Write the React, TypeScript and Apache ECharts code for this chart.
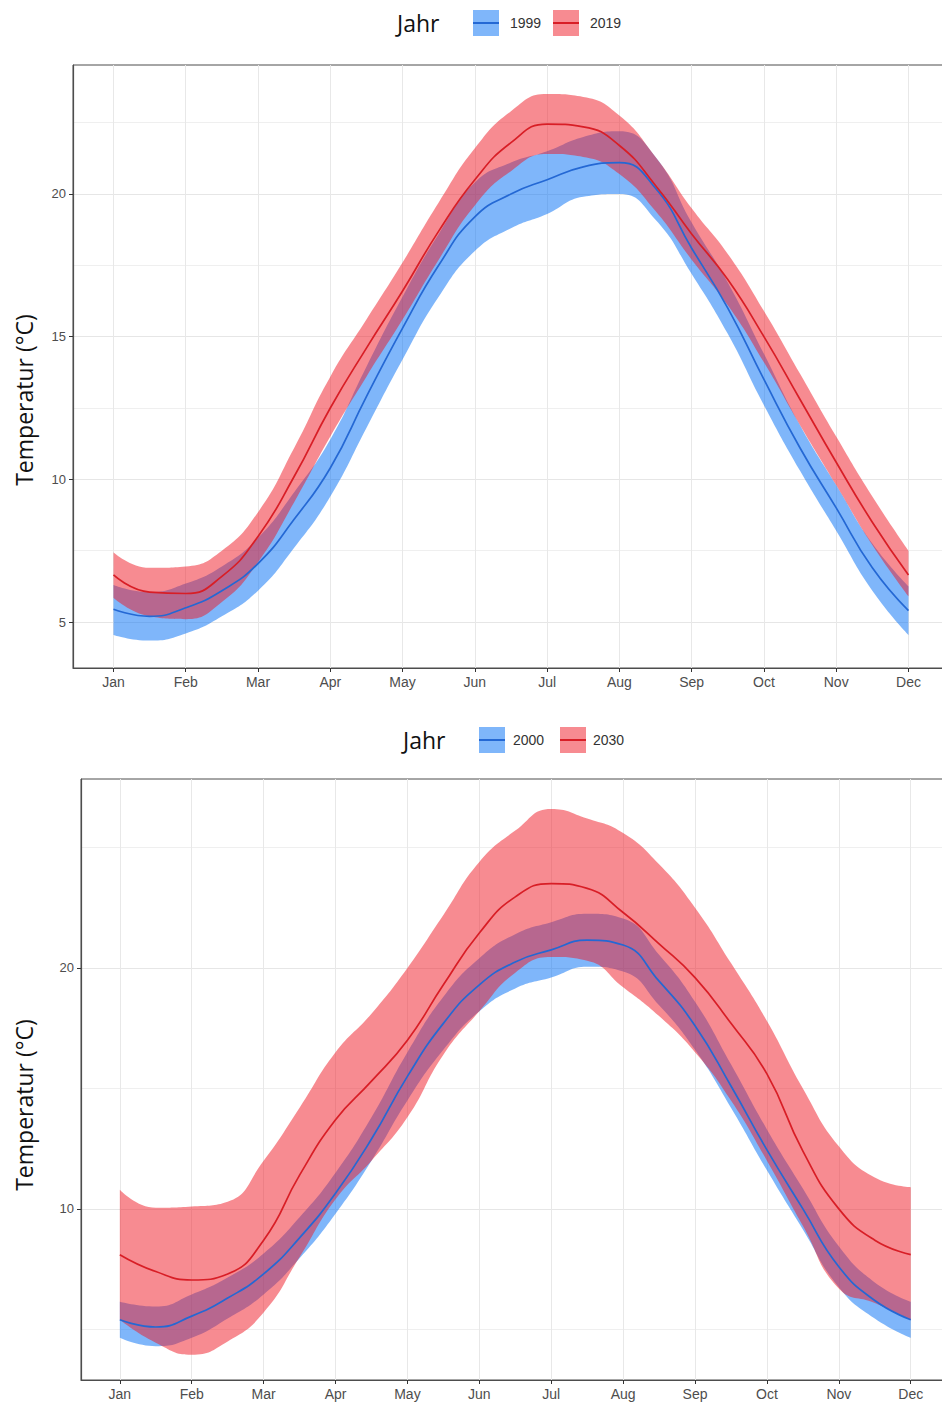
import React, { useEffect, useRef } from "react";
import * as echarts from "echarts";

// ---------- data ----------
const months = ["Jan", "Feb", "Mar", "Apr", "May", "Jun", "Jul", "Aug", "Sep", "Oct", "Nov", "Dec"];
const monthTicks = [1, 2, 3, 4, 5, 6, 7, 8, 9, 10, 11, 12];
const xPos = [1, 1.5, 2, 2.5, 3, 3.5, 4, 4.5, 5, 5.5, 6, 6.5, 7, 7.5, 8, 8.5, 9, 9.5, 10, 10.5, 11, 11.5, 12];

// top panel: 1999 vs 2019
const top1999Line = [5.45, 5.2, 5.5, 6.1, 7.05, 8.6, 10.4, 12.9, 15.3, 17.5, 19.2, 20.0, 20.5, 20.95, 21.1, 20.2, 18.1, 16.0, 13.5, 11.1, 9.0, 6.9, 5.4];
const top1999Lower = [4.55, 4.35, 4.6, 5.2, 6.1, 7.6, 9.4, 11.8, 14.2, 16.4, 18.0, 18.8, 19.3, 19.9, 20.0, 19.1, 17.2, 15.1, 12.6, 10.3, 8.2, 6.1, 4.55];
const top1999Upper = [6.3, 6.05, 6.35, 6.95, 7.95, 9.55, 11.4, 13.95, 16.4, 18.6, 20.4, 21.1, 21.5, 22.0, 22.2, 21.3, 19.0, 16.9, 14.4, 11.9, 9.8, 7.75, 6.25];

const top2019Line = [6.65, 6.05, 6.0, 6.6, 8.0, 10.1, 12.5, 14.6, 16.6, 18.7, 20.5, 21.8, 22.45, 22.35, 21.7, 20.3, 18.6, 17.0, 15.0, 12.8, 10.6, 8.5, 6.65];
const top2019Lower = [5.85, 5.2, 5.1, 5.7, 7.1, 9.2, 11.5, 13.6, 15.6, 17.7, 19.6, 20.8, 21.4, 21.3, 20.7, 19.4, 17.7, 16.1, 14.1, 11.9, 9.8, 7.7, 5.9];
const top2019Upper = [7.45, 6.9, 6.95, 7.5, 8.85, 11.1, 13.6, 15.6, 17.6, 19.7, 21.6, 22.9, 23.5, 23.4, 22.75, 21.3, 19.5, 17.9, 15.9, 13.7, 11.5, 9.4, 7.5];

// bottom panel: 2000 vs 2030
const bottom2000Line = [5.4, 5.1, 5.55, 6.3, 7.3, 8.8, 10.65, 12.9, 15.5, 17.7, 19.3, 20.25, 20.75, 21.15, 20.95, 19.45, 17.6, 15.1, 12.45, 10.0, 7.6, 6.2, 5.4];
const bottom2000Lower = [4.65, 4.3, 4.65, 5.45, 6.45, 7.95, 9.8, 12.0, 14.5, 16.6, 18.2, 19.15, 19.6, 20.05, 19.85, 18.45, 16.6, 14.2, 11.6, 9.15, 6.75, 5.45, 4.65];
const bottom2000Upper = [6.15, 5.95, 6.45, 7.15, 8.15, 9.65, 11.5, 13.8, 16.5, 18.8, 20.4, 21.4, 21.9, 22.25, 22.05, 20.55, 18.6, 16.0, 13.3, 10.85, 8.45, 6.95, 6.15];

const bottom2030Line = [8.1, 7.4, 7.05, 7.3, 8.7, 11.4, 13.7, 15.3, 17.0, 19.3, 21.45, 22.95, 23.5, 23.3, 22.3, 21.0, 19.6, 17.7, 15.6, 12.4, 10.0, 8.7, 8.1];
const bottom2030Lower = [5.4, 4.45, 3.95, 4.5, 5.7, 8.0, 10.4, 12.0, 13.8, 16.4, 18.2, 19.8, 20.45, 20.3, 19.2, 18.0, 16.5, 14.5, 12.0, 9.3, 6.7, 6.1, 5.4];
const bottom2030Upper = [10.8, 10.05, 10.1, 10.3, 12.0, 14.2, 16.5, 18.1, 20.0, 22.2, 24.4, 25.7, 26.6, 26.2, 25.6, 24.3, 22.5, 20.2, 17.8, 15.0, 12.6, 11.3, 10.9];

// tick values
const topMajorTicks = [5, 10, 15, 20];
const topMinorTicks = [7.5, 12.5, 17.5, 22.5];
const bottomMajorTicks = [10, 20];
const bottomMinorTicks = [5, 15, 25];

const legendTitle = "Jahr";
const topLegendLabels = ["1999", "2019"];
const bottomLegendLabels = ["2000", "2030"];
const yTitle = "Temperatur (°C)";

// ---------- styles ----------
const BLUE_FILL = "rgba(0,110,245,0.5)";
const RED_FILL = "rgba(240,24,36,0.5)";
const BLUE_LINE = "#2468d4";
const RED_LINE = "#d81e26";
const TICK_FONT = '"Liberation Sans Narrow", "Liberation Sans", Arial, sans-serif';
const TITLE_FONT = '"Open Sans", "Noto Sans", sans-serif';
const SMOOTH = 0.5;

// data tuples are [value, x] with encode {x:1, y:0}, so stacking happens on the value dimension
const pairs = (vals: number[]) => vals.map((v, i) => [v, xPos[i]]);
const diffPairs = (lo: number[], up: number[]) => up.map((u, i) => [+(u - lo[i]).toFixed(3), xPos[i]]);

function bandSeries(id: string, lo: number[], up: number[], fill: string, xi: number, yi: number) {
  return [
    {
      type: "line", name: id + "-lower", xAxisIndex: xi, yAxisIndex: yi, stack: id,
      data: pairs(lo), encode: { x: 1, y: 0 }, symbol: "none", smooth: SMOOTH,
      lineStyle: { width: 0, opacity: 0 }, silent: true,
    },
    {
      type: "line", name: id + "-band", xAxisIndex: xi, yAxisIndex: yi, stack: id,
      data: diffPairs(lo, up), encode: { x: 1, y: 0 }, symbol: "none", smooth: SMOOTH,
      lineStyle: { width: 0, opacity: 0 }, areaStyle: { color: fill, opacity: 1 }, silent: true,
    },
  ];
}

function lineSeries(id: string, vals: number[], color: string, xi: number, yi: number) {
  return {
    type: "line", name: id, xAxisIndex: xi, yAxisIndex: yi,
    data: pairs(vals), encode: { x: 1, y: 0 }, symbol: "none", smooth: SMOOTH,
    lineStyle: { color, width: 1.7 }, itemStyle: { color }, silent: true,
  };
}

function xAxisCfg(gridIndex: number, min: number, max: number) {
  return {
    type: "value", gridIndex, min, max,
    axisLine: { show: true, onZero: false, lineStyle: { color: "#4d4d4d", width: 1.2 } },
    axisTick: { show: true, length: 4, customValues: monthTicks, lineStyle: { color: "#333" } },
    axisLabel: {
      customValues: monthTicks, formatter: (v: number) => months[Math.round(v) - 1] ?? "",
      color: "#4d4d4d", fontSize: 14, fontFamily: TICK_FONT, margin: 7,
    },
    splitLine: { show: true, lineStyle: { color: "#e8e8e8", width: 1 } },
  };
}

function yMinorCfg(gridIndex: number, min: number, max: number, ticks: number[]) {
  return {
    type: "value", gridIndex, min, max, position: "left",
    axisLine: { show: false, onZero: false },
    axisTick: { show: false, customValues: ticks },
    axisLabel: { show: false, customValues: ticks },
    splitLine: { show: true, lineStyle: { color: "#efefef", width: 1 } },
  };
}

function yMajorCfg(gridIndex: number, min: number, max: number, ticks: number[]) {
  return {
    type: "value", gridIndex, min, max, position: "left",
    axisLine: { show: true, onZero: false, lineStyle: { color: "#4d4d4d", width: 1.2 } },
    axisTick: { show: true, length: 4, customValues: ticks, lineStyle: { color: "#333" } },
    axisLabel: { customValues: ticks, color: "#4d4d4d", fontSize: 13, fontFamily: TICK_FONT, margin: 7 },
    splitLine: { show: true, lineStyle: { color: "#e6e6e6", width: 1 } },
  };
}

function legendGraphics(cy: number, titleX: number, keys: { x: number; lx: number; fill: string; line: string; label: string }[]) {
  const els: any[] = [
    { type: "text", x: titleX, y: cy, style: { text: legendTitle, font: `23px ${TITLE_FONT}`, fill: "#111", verticalAlign: "middle", align: "left" } },
  ];
  keys.forEach((k) => {
    els.push({ type: "rect", shape: { x: k.x, y: cy - 13, width: 26, height: 26 }, style: { fill: k.fill } });
    els.push({ type: "line", shape: { x1: k.x, y1: cy, x2: k.x + 26, y2: cy }, style: { stroke: k.line, lineWidth: 2 } });
    els.push({ type: "text", x: k.lx, y: cy, style: { text: k.label, font: `14px ${TICK_FONT}`, fill: "#333", verticalAlign: "middle", align: "left" } });
  });
  return els;
}

function buildOption() {
  return {
    animation: false,
    backgroundColor: "#ffffff",
    grid: [
      { left: 73, top: 65, width: 874.5, height: 603, show: true, borderColor: "#4d4d4d", borderWidth: 1, containLabel: false, outerBoundsMode: "none" },
      { left: 81, top: 779, width: 870, height: 601, show: true, borderColor: "#4d4d4d", borderWidth: 1, containLabel: false, outerBoundsMode: "none" },
    ],
    xAxis: [xAxisCfg(0, 0.44, 12.54), xAxisCfg(1, 0.46, 12.56)],
    yAxis: [
      yMinorCfg(0, 3.39, 24.52, topMinorTicks),
      yMajorCfg(0, 3.39, 24.52, topMajorTicks),
      yMinorCfg(1, 2.9, 27.84, bottomMinorTicks),
      yMajorCfg(1, 2.9, 27.84, bottomMajorTicks),
    ],
    series: [
      ...bandSeries("b1999", top1999Lower, top1999Upper, BLUE_FILL, 0, 0),
      lineSeries("1999", top1999Line, BLUE_LINE, 0, 0),
      ...bandSeries("r2019", top2019Lower, top2019Upper, RED_FILL, 0, 0),
      lineSeries("2019", top2019Line, RED_LINE, 0, 0),
      ...bandSeries("b2000", bottom2000Lower, bottom2000Upper, BLUE_FILL, 1, 2),
      lineSeries("2000", bottom2000Line, BLUE_LINE, 1, 2),
      ...bandSeries("r2030", bottom2030Lower, bottom2030Upper, RED_FILL, 1, 2),
      lineSeries("2030", bottom2030Line, RED_LINE, 1, 2),
    ],
    graphic: [
      ...legendGraphics(23, 397, [
        { x: 473, lx: 510, fill: BLUE_FILL, line: BLUE_LINE, label: topLegendLabels[0] },
        { x: 553, lx: 590, fill: RED_FILL, line: RED_LINE, label: topLegendLabels[1] },
      ]),
      ...legendGraphics(740, 403, [
        { x: 479, lx: 513, fill: BLUE_FILL, line: BLUE_LINE, label: bottomLegendLabels[0] },
        { x: 560, lx: 593, fill: RED_FILL, line: RED_LINE, label: bottomLegendLabels[1] },
      ]),
      { type: "text", x: 24, y: 400, rotation: Math.PI / 2, style: { text: yTitle, font: `23px ${TITLE_FONT}`, fill: "#111", align: "center", verticalAlign: "middle" } },
      { type: "text", x: 24, y: 1105, rotation: Math.PI / 2, style: { text: yTitle, font: `23px ${TITLE_FONT}`, fill: "#111", align: "center", verticalAlign: "middle" } },
    ],
  };
}

export default function App() {
  const ref = useRef<HTMLDivElement>(null);
  useEffect(() => {
    if (!ref.current) return;
    const chart = echarts.init(ref.current, null, { renderer: "svg" });
    chart.setOption(buildOption() as any);
    return () => chart.dispose();
  }, []);
  return (
    <div
      ref={ref}
      style={{ position: "absolute", left: 0, top: 0, width: 942, height: 1405, background: "#fff" }}
    />
  );
}
